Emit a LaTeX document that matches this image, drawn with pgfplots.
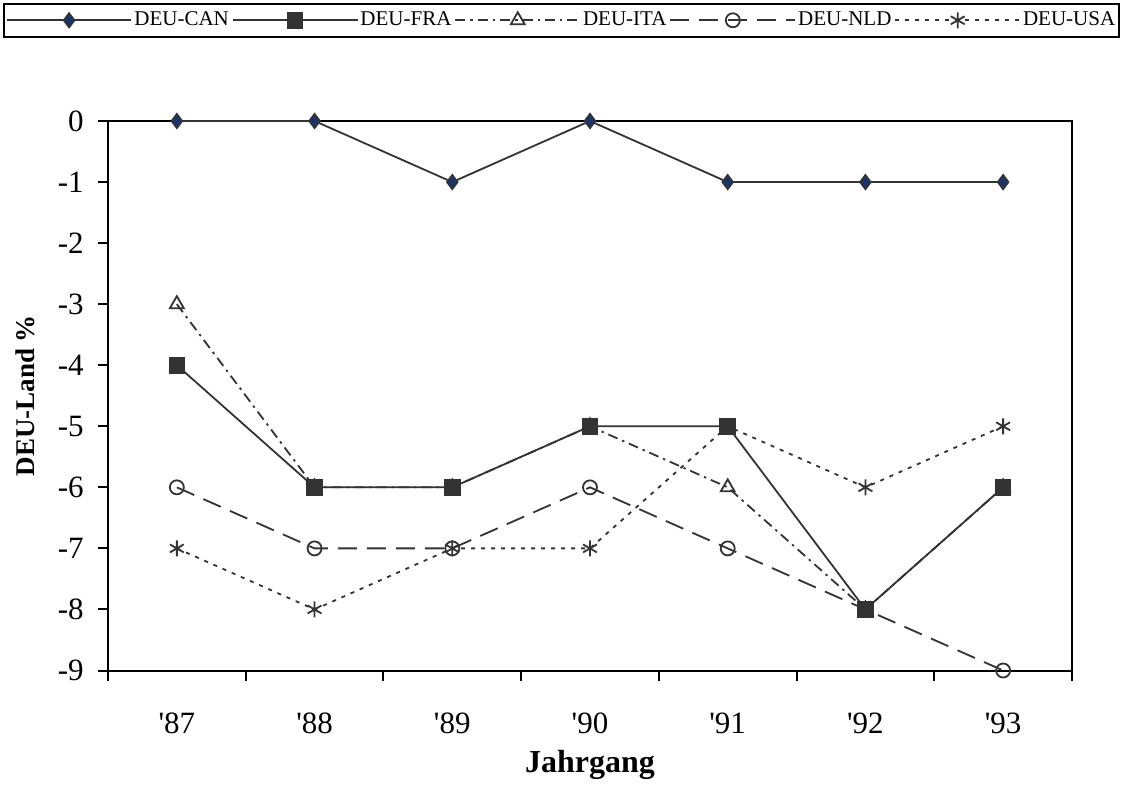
\documentclass[border=0pt]{standalone}
\usepackage{fontspec}
\setmainfont{Liberation Serif}
\usepackage{pgfplots}
\pgfplotsset{compat=1.18}
\definecolor{ln}{RGB}{51,51,51}
\definecolor{navy}{RGB}{28,52,110}
\begin{document}
\begin{tikzpicture}
\path[use as bounding box] (-54pt,-59.25pt) rectangle (506.5pt,335.25pt);
\begin{axis}[
  scale only axis,
  width=482pt, height=274.75pt,
  xmin=-0.5, xmax=6.5, ymin=-9, ymax=0,
  axis line style={black, line width=1pt},
  xtick={0,1,2,3,4,5,6},
  xticklabels={\textquotesingle87,\textquotesingle88,\textquotesingle89,\textquotesingle90,\textquotesingle91,\textquotesingle92,\textquotesingle93},
  major x tick style={draw=none},
  minor xtick={-0.5,0.5,1.5,2.5,3.5,4.5,5.5,6.5},
  minor x tick style={black, line width=1pt},
  minor tick length=5pt,
  ytick={-9,-8,-7,-6,-5,-4,-3,-2,-1,0},
  yticklabels={-9,-8,-7,-6,-5,-4,-3,-2,-1,0},
  major y tick style={black, line width=1pt},
  major tick length=5pt,
  tick align=outside,
  xtick pos=bottom, ytick pos=left,
  ticklabel style={font=\fontsize{15.5}{17}\selectfont},
  xticklabel style={anchor=base, yshift=-26.5pt},
  yticklabel style={anchor=east, inner xsep=0pt, xshift=-7pt},
  xlabel={\textbf{Jahrgang}},
  xlabel style={font=\fontsize{16}{18}\selectfont, at={(axis description cs:0.5,0)}, anchor=base, yshift=-51pt},
  ylabel={\textbf{DEU-Land \%}},
  ylabel style={font=\fontsize{13.5}{15}\selectfont, at={(axis description cs:0,0.5)}, anchor=center, yshift=41.5pt},
  clip=false,
  legend columns=5,
  legend style={at={(0,1)}, anchor=north west, xshift=-52.5pt, yshift=59pt,
    draw=black, line width=0.8pt, inner xsep=1pt, inner ysep=2pt,
    font=\fontsize{10.5}{12}\selectfont,
    /tikz/every even column/.append style={column sep=0.5pt},
    nodes={inner xsep=1pt}},
  legend image code/.code={\draw[mark repeat=2,mark phase=2,#1] plot coordinates {(0pt,0pt) (31.2pt,0pt) (62.4pt,0pt)};},
  every axis plot/.append style={line width=0.9pt, ln},
]
\addplot[ln, mark=diamond*, mark size=3.6pt, mark options={solid, fill=navy, draw=ln, line width=0.8pt}]
  coordinates {(0,0) (1,0) (2,-1) (3,0) (4,-1) (5,-1) (6,-1)};
\addlegendentry{DEU-CAN}
\addplot[ln, mark=square*, mark size=3.7pt, mark options={solid, fill=ln, draw=ln}]
  coordinates {(0,-4) (1,-6) (2,-6) (3,-5) (4,-5) (5,-8) (6,-6)};
\addlegendentry{DEU-FRA}
\addplot[ln, dash pattern=on 5pt off 2.5pt on 1.2pt off 2.5pt, mark=triangle, mark size=4pt, mark options={solid, fill=white, draw=ln}]
  coordinates {(0,-3) (1,-6) (2,-6) (3,-5) (4,-6) (5,-8) (6,-6)};
\addlegendentry{DEU-ITA}
\addplot[ln, dash pattern=on 9.5pt off 5pt, mark=o, mark size=3.5pt, mark options={solid, draw=ln}]
  coordinates {(0,-6) (1,-7) (2,-7) (3,-6) (4,-7) (5,-8) (6,-9)};
\addlegendentry{DEU-NLD}
\addplot[ln, dash pattern=on 2pt off 3pt, mark=asterisk, mark size=4pt, mark options={solid, draw=ln}]
  coordinates {(0,-7) (1,-8) (2,-7) (3,-7) (4,-5) (5,-6) (6,-5)};
\addlegendentry{DEU-USA}
\end{axis}
\end{tikzpicture}
\end{document}
